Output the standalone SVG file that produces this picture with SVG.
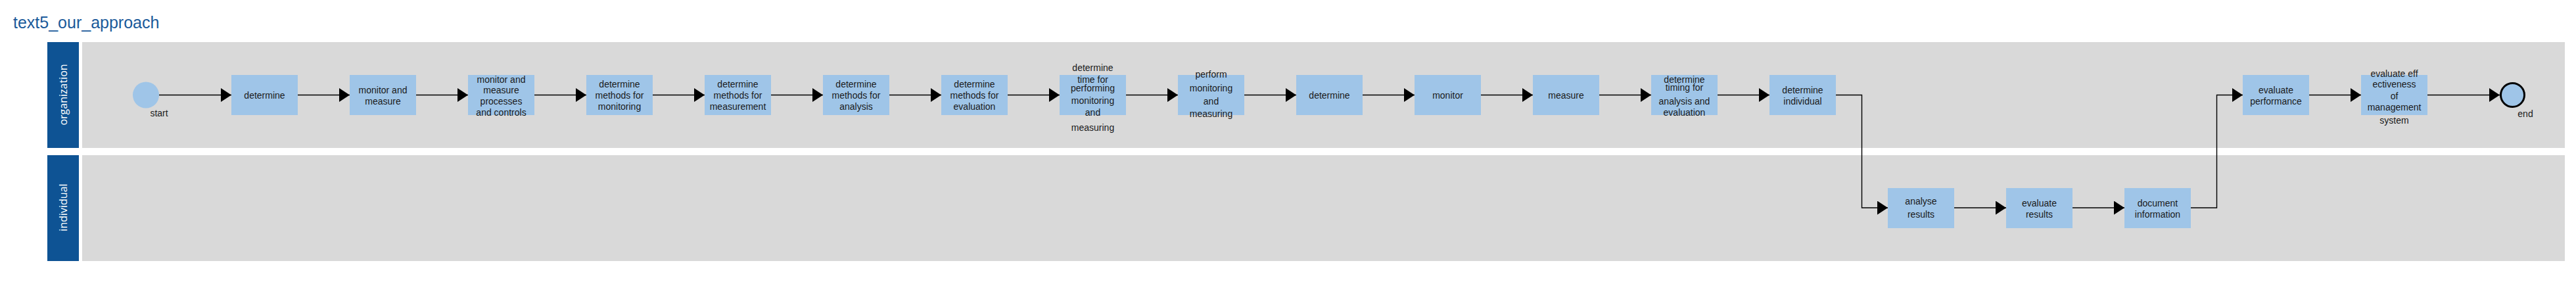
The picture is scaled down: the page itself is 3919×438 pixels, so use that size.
<svg xmlns="http://www.w3.org/2000/svg" width="3919" height="438" viewBox="0 0 3919 438">
<style>
.title{font-family:"Liberation Sans",Arial,sans-serif;font-size:25px;fill:#1a5a9a}
.lanehead{fill:#0e5394}
.lanebody{fill:#d9d9d9}
.lanelabel{font-family:"Open Sans","DejaVu Sans",sans-serif;font-size:16px;fill:#ffffff;text-anchor:middle}
.task{fill:#9fc5e8}
.t{font-family:"Liberation Sans",Arial,sans-serif;font-size:14px;fill:#1a1a1a;text-anchor:middle}
.conn{fill:none;stroke:#000;stroke-width:1.4}
</style>
<defs>
<marker id="arrow" markerUnits="userSpaceOnUse" markerWidth="16" markerHeight="21" refX="16" refY="10.5" orient="auto">
<path d="M0,0 L16,10.5 L0,21 z" fill="#000"/>
</marker>
</defs>
<rect width="3919" height="438" fill="#ffffff"/>
<text class="title" x="20" y="43">text5_our_approach</text>
<g id="lane-organization">
<rect class="lanehead" x="72" y="64" width="48" height="161"/>
<rect class="lanebody" x="125" y="64" width="3777" height="161"/>
<text class="lanelabel" transform="translate(102,144) rotate(-90)">organization</text>
</g>
<g id="lane-individual">
<rect class="lanehead" x="72" y="236" width="48" height="161"/>
<rect class="lanebody" x="125" y="236" width="3777" height="161"/>
<text class="lanelabel" transform="translate(102,315.5) rotate(-90)">individual</text>
</g>
<g id="connectors">
<path class="conn" marker-end="url(#arrow)" d="M242,144.5 H352"/>
<path class="conn" marker-end="url(#arrow)" d="M453,144.5 H532"/>
<path class="conn" marker-end="url(#arrow)" d="M633,144.5 H712"/>
<path class="conn" marker-end="url(#arrow)" d="M813,144.5 H892"/>
<path class="conn" marker-end="url(#arrow)" d="M993,144.5 H1072"/>
<path class="conn" marker-end="url(#arrow)" d="M1173,144.5 H1252"/>
<path class="conn" marker-end="url(#arrow)" d="M1353,144.5 H1432"/>
<path class="conn" marker-end="url(#arrow)" d="M1533,144.5 H1612"/>
<path class="conn" marker-end="url(#arrow)" d="M1713,144.5 H1792"/>
<path class="conn" marker-end="url(#arrow)" d="M1893,144.5 H1972"/>
<path class="conn" marker-end="url(#arrow)" d="M2073,144.5 H2152"/>
<path class="conn" marker-end="url(#arrow)" d="M2253,144.5 H2332"/>
<path class="conn" marker-end="url(#arrow)" d="M2433,144.5 H2512"/>
<path class="conn" marker-end="url(#arrow)" d="M2613,144.5 H2692"/>
<path class="conn" marker-end="url(#arrow)" d="M2793,144.5 H2832.5 V316 H2872"/>
<path class="conn" marker-end="url(#arrow)" d="M2973,316 H3052"/>
<path class="conn" marker-end="url(#arrow)" d="M3153,316 H3232"/>
<path class="conn" marker-end="url(#arrow)" d="M3333,316 H3372.5 V144.5 H3412"/>
<path class="conn" marker-end="url(#arrow)" d="M3513,144.5 H3592"/>
<path class="conn" marker-end="url(#arrow)" d="M3693,144.5 H3803"/>
</g>
<g id="start">
<circle cx="222" cy="144.5" r="20" fill="#9fc5e8"/>
<text class="t" x="242" y="177">start</text>
</g>
<g id="task1"><rect class="task" x="352" y="114" width="101" height="61"/>
<text class="t" x="402.5" y="150">determine</text></g>
<g id="task2"><rect class="task" x="532" y="114" width="101" height="61"/>
<text class="t" x="582.5" y="142">monitor and</text><text class="t" x="582.5" y="159">measure</text></g>
<g id="task3"><rect class="task" x="712" y="114" width="101" height="61"/>
<text class="t" x="762.5" y="126">monitor and</text><text class="t" x="762.5" y="142">measure</text><text class="t" x="762.5" y="159">processes</text><text class="t" x="762.5" y="176">and controls</text></g>
<g id="task4"><rect class="task" x="892" y="114" width="101" height="61"/>
<text class="t" x="942.5" y="133">determine</text><text class="t" x="942.5" y="150">methods for</text><text class="t" x="942.5" y="167">monitoring</text></g>
<g id="task5"><rect class="task" x="1072" y="114" width="101" height="61"/>
<text class="t" x="1122.5" y="133">determine</text><text class="t" x="1122.5" y="150">methods for</text><text class="t" x="1122.5" y="167">measurement</text></g>
<g id="task6"><rect class="task" x="1252" y="114" width="101" height="61"/>
<text class="t" x="1302.5" y="133">determine</text><text class="t" x="1302.5" y="150">methods for</text><text class="t" x="1302.5" y="167">analysis</text></g>
<g id="task7"><rect class="task" x="1432" y="114" width="101" height="61"/>
<text class="t" x="1482.5" y="133">determine</text><text class="t" x="1482.5" y="150">methods for</text><text class="t" x="1482.5" y="167">evaluation</text></g>
<g id="task8"><rect class="task" x="1612" y="114" width="101" height="61"/>
<text class="t" x="1662.5" y="108">determine</text><text class="t" x="1662.5" y="126">time for</text><text class="t" x="1662.5" y="139">performing</text><text class="t" x="1662.5" y="158">monitoring</text><text class="t" x="1662.5" y="176">and</text><text class="t" x="1662.5" y="199">measuring</text></g>
<g id="task9"><rect class="task" x="1792" y="114" width="101" height="61"/>
<text class="t" x="1842.5" y="118">perform</text><text class="t" x="1842.5" y="139">monitoring</text><text class="t" x="1842.5" y="159">and</text><text class="t" x="1842.5" y="178">measuring</text></g>
<g id="task10"><rect class="task" x="1972" y="114" width="101" height="61"/>
<text class="t" x="2022.5" y="150">determine</text></g>
<g id="task11"><rect class="task" x="2152" y="114" width="101" height="61"/>
<text class="t" x="2202.5" y="150">monitor</text></g>
<g id="task12"><rect class="task" x="2332" y="114" width="101" height="61"/>
<text class="t" x="2382.5" y="150">measure</text></g>
<g id="task13"><rect class="task" x="2512" y="114" width="101" height="61"/>
<text class="t" x="2562.5" y="126">determine</text><text class="t" x="2562.5" y="138">timing for</text><text class="t" x="2562.5" y="159">analysis and</text><text class="t" x="2562.5" y="176">evaluation</text></g>
<g id="task14"><rect class="task" x="2692" y="114" width="101" height="61"/>
<text class="t" x="2742.5" y="142">determine</text><text class="t" x="2742.5" y="159">individual</text></g>
<g id="task15"><rect class="task" x="2872" y="286" width="101" height="61"/>
<text class="t" x="2922.5" y="311">analyse</text><text class="t" x="2922.5" y="331">results</text></g>
<g id="task16"><rect class="task" x="3052" y="286" width="101" height="61"/>
<text class="t" x="3102.5" y="314">evaluate</text><text class="t" x="3102.5" y="331">results</text></g>
<g id="task17"><rect class="task" x="3232" y="286" width="101" height="61"/>
<text class="t" x="3282.5" y="314">document</text><text class="t" x="3282.5" y="331">information</text></g>
<g id="task18"><rect class="task" x="3412" y="114" width="101" height="61"/>
<text class="t" x="3462.5" y="142">evaluate</text><text class="t" x="3462.5" y="159">performance</text></g>
<g id="task19"><rect class="task" x="3592" y="114" width="101" height="61"/>
<text class="t" x="3642.5" y="117">evaluate eff</text><text class="t" x="3642.5" y="133">ectiveness</text><text class="t" x="3642.5" y="151">of</text><text class="t" x="3642.5" y="168">management</text><text class="t" x="3642.5" y="188">system</text></g>
<g id="end">
<circle cx="3822.5" cy="144.5" r="18" fill="#9fc5e8" stroke="#000" stroke-width="3"/>
<text class="t" x="3842" y="178">end</text>
</g>
</svg>
